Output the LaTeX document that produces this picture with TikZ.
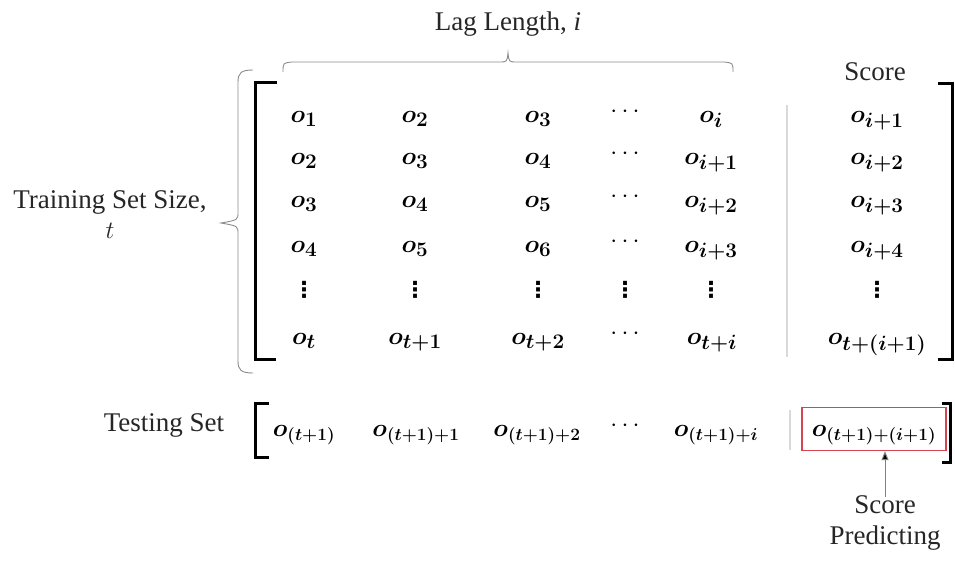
\documentclass[tikz,border=0pt]{standalone}
\usepackage{fontspec}
\setmainfont{Liberation Serif}
\newfontfamily\dotsfont{DejaVu Sans}
\usepackage{bm}
\usetikzlibrary{arrows.meta}
\definecolor{boxred}{RGB}{214,70,80}
\begin{document}
\begin{tikzpicture}[x=1pt,y=-1pt,
  lbl/.style={font=\fontsize{27}{32}\selectfont, text=black!85, inner sep=0pt},
  ent/.style={font=\fontsize{28}{32}\selectfont, inner sep=0pt, anchor=base},
  tent/.style={font=\fontsize{26}{30}\selectfont, inner sep=0pt, anchor=base},
  dotsent/.style={font=\dotsfont\bfseries\fontsize{22}{26}\selectfont, inner sep=0pt, anchor=center},
  bracket/.style={line width=3pt, line cap=butt},
  bracestyle/.style={draw=black!45, line width=0.9pt},
  sepline/.style={draw=black!15, line width=1.2pt},
  predbox/.style={draw=boxred, line width=1.3pt, minimum width=144pt, minimum height=43pt, inner sep=0pt},
  pointer/.style={draw=black!50, line width=1pt, -{Triangle[length=9pt,width=7pt,fill=black]}}]
\useasboundingbox (0,0) rectangle (955,560);

% labels
\node[lbl] (lag) at (508,24) {Lag Length, \textit{i}};
\node[lbl, align=center] (train) at (110,215) {Training Set Size,\\[-2pt] $t$};
\node[lbl] (score) at (875,72) {Score};
\node[lbl] (test) at (164,425) {Testing Set};
\node[lbl, align=center] (scorepred) at (885,523) {Score\\[-1pt] Predicting};

% braces
\draw[bracestyle] (283,72) .. controls (283,63) .. (292,62) -- (499,62)
  .. controls (507,62) .. (508,53) .. controls (509,62) .. (517,62)
  -- (724,62) .. controls (733,63) .. (733,72);
\draw[bracestyle] (253,70) .. controls (241,70) and (238,73) .. (238,82) -- (238,212)
  .. controls (238,220) .. (221,223) .. controls (238,226) .. (238,234)
  -- (238,361) .. controls (238,370) and (241,373) .. (253,373);

% brackets
\draw[bracket] (277,82) -- (255,82) -- (255,359) -- (276,359);
\draw[bracket] (938,83) -- (952,83) -- (952,359) -- (938,359);
\draw[bracket] (269,403) -- (255,403) -- (255,457) -- (269,457);
\draw[bracket] (942,403) -- (950,403) -- (950,462) -- (942,462);

% separators
\draw[sepline] (787,105) -- (787,357);
\draw[sepline] (790,410) -- (790,450);

% row 1
\node[ent] (a11) at (304,122) {$\bm{o_{1}}$};
\node[ent] (a12) at (415,122) {$\bm{o_{2}}$};
\node[ent] (a13) at (538,122) {$\bm{o_{3}}$};
\node[ent] (a14) at (625,117) {$\cdots$};
\node[ent] (a15) at (711,122) {$\bm{o_{i}}$};
\node[ent] (a16) at (877,122) {$\bm{o_{i+1}}$};
% row 2
\node[ent] (a21) at (304,164) {$\bm{o_{2}}$};
\node[ent] (a22) at (415,164) {$\bm{o_{3}}$};
\node[ent] (a23) at (538,164) {$\bm{o_{4}}$};
\node[ent] (a24) at (625,159) {$\cdots$};
\node[ent] (a25) at (711,164) {$\bm{o_{i+1}}$};
\node[ent] (a26) at (877,164) {$\bm{o_{i+2}}$};
% row 3
\node[ent] (a31) at (304,207) {$\bm{o_{3}}$};
\node[ent] (a32) at (415,207) {$\bm{o_{4}}$};
\node[ent] (a33) at (538,207) {$\bm{o_{5}}$};
\node[ent] (a34) at (625,202) {$\cdots$};
\node[ent] (a35) at (711,207) {$\bm{o_{i+2}}$};
\node[ent] (a36) at (877,207) {$\bm{o_{i+3}}$};
% row 4
\node[ent] (a41) at (304,252) {$\bm{o_{4}}$};
\node[ent] (a42) at (415,252) {$\bm{o_{5}}$};
\node[ent] (a43) at (538,252) {$\bm{o_{6}}$};
\node[ent] (a44) at (625,247) {$\cdots$};
\node[ent] (a45) at (711,252) {$\bm{o_{i+3}}$};
\node[ent] (a46) at (877,252) {$\bm{o_{i+4}}$};
% row 5
\node[dotsent] (a51) at (304,290) {⋮};
\node[dotsent] (a52) at (415,290) {⋮};
\node[dotsent] (a53) at (538,290) {⋮};
\node[dotsent] (a54) at (625,290) {⋮};
\node[dotsent] (a55) at (711,290) {⋮};
\node[dotsent] (a56) at (877,290) {⋮};
% row 6
\node[ent] (a61) at (304,344) {$\bm{o_{t}}$};
\node[ent] (a62) at (415,344) {$\bm{o_{t+1}}$};
\node[ent] (a63) at (538,344) {$\bm{o_{t+2}}$};
\node[ent] (a64) at (625,339) {$\cdots$};
\node[ent] (a65) at (712,344) {$\bm{o_{t+i}}$};
\node[ent] (a66) at (877,344) {$\bm{o_{t+(i+1)}}$};

% testing row
\node[tent] (b1) at (304,436) {$\bm{o_{(t+1)}}$};
\node[tent] (b2) at (416,436) {$\bm{o_{(t+1)+1}}$};
\node[tent] (b3) at (537,436) {$\bm{o_{(t+1)+2}}$};
\node[ent] (b4) at (625,431) {$\cdots$};
\node[tent] (b5) at (716,436) {$\bm{o_{(t+1)+i}}$};
\node[tent] (b6) at (874,436) {$\bm{o_{(t+1)+(i+1)}}$};
\node[predbox] (box) at (874,429) {};

% pointer
\coordinate (ptail) at (885,497);
\draw[pointer] (ptail) -- (ptail |- box.south);
\end{tikzpicture}
\end{document}
